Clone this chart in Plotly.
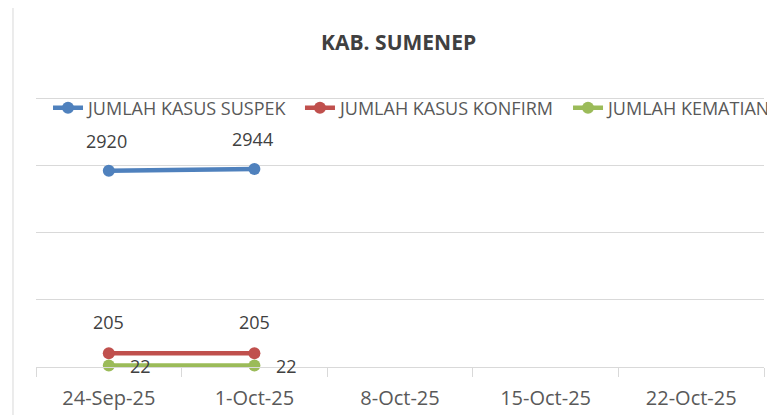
import plotly.graph_objects as go

categories = ["24-Sep-25", "1-Oct-25", "8-Oct-25", "15-Oct-25", "22-Oct-25"]
suspek = [2920, 2944, None, None, None]
konfirm = [205, 205, None, None, None]
kematian = [22, 22, None, None, None]

# name, values, colour, label shift (x, y), legend id, legend x
series = [
    ("JUMLAH KASUS SUSPEK", suspek, "#4f81bd", (-2, 30), "legend", 0.0165),
    ("JUMLAH KASUS KONFIRM", konfirm, "#c0504d", (0, 31), "legend2", 0.3626),
    ("JUMLAH KEMATIAN", kematian, "#9bbb59", (32, 0), "legend3", 0.7308),
]

FONT = "Open Sans"
fig = go.Figure()
annotations = []
legends = {}
for name, vals, color, (dx, dy), leg, lx in series:
    fig.add_trace(go.Scatter(
        x=categories, y=vals, name=name, mode="lines+markers",
        line=dict(color=color, width=4.5),
        marker=dict(color=color, size=12),
        legend=leg, cliponaxis=False,
    ))
    for c, v in zip(categories, vals):
        if v is None:
            continue
        annotations.append(dict(
            x=c, y=v, xref="x", yref="y", text=str(v), showarrow=False,
            xshift=dx, yshift=dy, xanchor="center", yanchor="middle",
            font=dict(family=FONT, size=18, color="#404040")))
    legends[leg] = dict(orientation="h", x=lx, xanchor="left", y=0.952, yanchor="middle",
                        font=dict(family=FONT, size=18, color="#595959"),
                        bgcolor="rgba(255,255,255,0)", itemwidth=30,
                        borderwidth=0)

fig.update_layout(
    width=775, height=415,
    margin=dict(l=28, r=19, t=87, b=56, autoexpand=False),
    paper_bgcolor="white", plot_bgcolor="white",
    title=dict(text="<b>KAB. SUMENEP</b>", x=0.504, xanchor="center",
               y=0.916, yanchor="middle",
               font=dict(family=FONT, size=21, color="#404040")),
    showlegend=True,
    annotations=annotations,
    xaxis=dict(type="category", categoryorder="array", categoryarray=categories,
               range=[-0.5, 4.5], tickson="boundaries", ticks="outside", ticklen=9,
               tickcolor="#d9d9d9", showline=True, linecolor="#d9d9d9", linewidth=1,
               showgrid=False, automargin=False, ticklabelstandoff=13,
               tickfont=dict(family=FONT, size=20, color="#595959")),
    yaxis=dict(range=[0, 4045], tick0=0, dtick=1000, showticklabels=False, showgrid=True,
               gridcolor="#d9d9d9", gridwidth=1, zeroline=False, showline=False,
               automargin=False),
    shapes=[dict(type="line", xref="paper", yref="paper", x0=-0.0316, x1=-0.0316,
                 y0=-0.25, y1=1.4, line=dict(color="#d9d9d9", width=1))],
)
fig.update_layout(**legends)

fig.write_html("out.html")
